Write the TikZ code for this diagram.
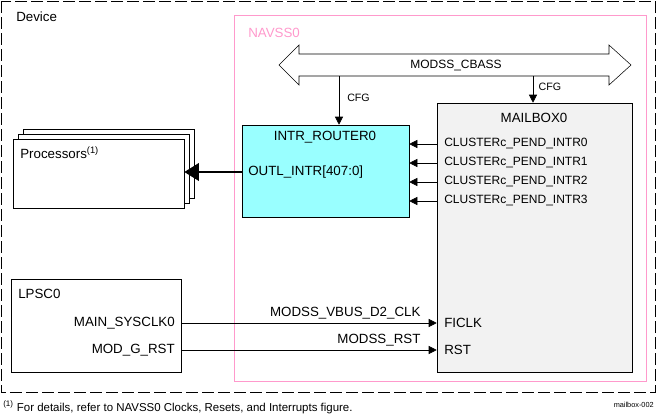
\documentclass[tikz,border=0pt]{standalone}
\usepackage{fontspec}
\setmainfont{Liberation Sans}
\definecolor{navpink}{RGB}{255,153,204}
\definecolor{rtrcyan}{RGB}{153,255,255}
\definecolor{mbxgray}{RGB}{242,242,242}
\usetikzlibrary{arrows.meta,positioning,calc,fit}

\begin{document}
\begin{tikzpicture}[x=0.75pt,y=-0.75pt,
    every node/.style={font=\fontsize{10}{12}\selectfont,inner sep=0pt},
    blk/.style={draw,inner sep=0pt},
    sig/.style={-{Triangle[length=6pt,width=6pt]},thin},
    lbl/.style={anchor=west}]

  \useasboundingbox (0,0) rectangle (658,414);

  % outer device and navss frames
  \draw[dash pattern=on 9pt off 3pt] (1,1) rectangle (655,392);
  \node[lbl] (dev) at (16,17) {Device};
  \node[blk,draw=navpink,fit={(234,15) (646,381)}] (nav) {};
  \node[lbl,text=navpink] (navlbl) at (248,33) {NAVSS0};

  % bus
  \draw (279,65) -- (299,45) -- (299,54) -- (609,54) -- (609,45) -- (631,65)
        -- (609,85) -- (609,76) -- (299,76) -- (299,85) -- cycle;
  \node (cbass) at (456,66) {\fontsize{9}{11}\selectfont MODSS\_CBASS};
  \coordinate (busA) at (339,76);
  \coordinate (busB) at (533,76);

  % blocks
  \node[blk,fill=white,fit={(23,129) (194,198)}] (proc3) {};
  \node[blk,fill=white,fit={(18,134) (189,203)}] (proc2) {};
  \node[blk,fill=white,fit={(13,139) (184,208)}] (proc) {};
  \node[lbl] (proclbl) at (20,153) {Processors\textsuperscript{(1)}};

  \node[blk,fill=rtrcyan,fit={(242,125) (409,217)}] (rtr) {};
  \node (rtrlbl) at (325,137) {INTR\_ROUTER0};
  \node[lbl] (outl) at (248,172) {OUTL\_INTR[407:0]};

  \node[blk,fill=mbxgray,fit={(437,103) (632,372)}] (mbx) {};
  \node (mbxlbl) at (534,118) {MAILBOX0};

  \node[blk,fit={(11,279) (181,372)}] (lpsc) {};
  \node[lbl] (lpsclbl) at (18,294) {LPSC0};
  \node[anchor=east] (sysclk) at (175,323) {MAIN\_SYSCLK0};
  \node[anchor=east] (grst) at (175,350) {MOD\_G\_RST};

  % config paths
  \draw[sig] (busA) -- (busA |- rtr.north)
    node[pos=0.45,right=6pt] {\fontsize{8}{10}\selectfont CFG};
  \draw[sig] (busB) -- (busB |- mbx.north)
    node[pos=0.4,right=4pt] {\fontsize{8}{10}\selectfont CFG};

  % interrupts
  \foreach \i/\y in {0/144,1/163,2/182,3/201} {
    \node[lbl] (pend\i) at (444,\y) {\fontsize{9}{11}\selectfont CLUSTERc\_PEND\_INTR\i};
    \draw[sig] (mbx.west |- pend\i) -- (rtr.east |- pend\i);
  }
  \draw[-{Triangle[length=11pt,width=13pt]},line width=2.2pt]
    (rtr.west |- outl) -- (proc.east |- outl);

  % clock and reset
  \node[lbl] (ficlk) at (444,323) {FICLK};
  \node[lbl] (rst) at (444,350) {RST};
  \draw[sig] (lpsc.east |- sysclk) -- (mbx.west |- ficlk)
    node[pos=1,above left=3pt and 12pt] {MODSS\_VBUS\_D2\_CLK};
  \draw[sig] (lpsc.east |- grst) -- (mbx.west |- rst)
    node[pos=1,above left=3pt and 12pt] {MODSS\_RST};

  % footnote
  \node[lbl] (note) at (3,407) {\fontsize{8.6}{10}\selectfont
    \textsuperscript{(1)} For details, refer to NAVSS0 Clocks, Resets, and Interrupts figure.};
  \node[anchor=east] (fig) at (654,405) {\fontsize{5.5}{7}\selectfont mailbox-002};
\end{tikzpicture}
\end{document}
